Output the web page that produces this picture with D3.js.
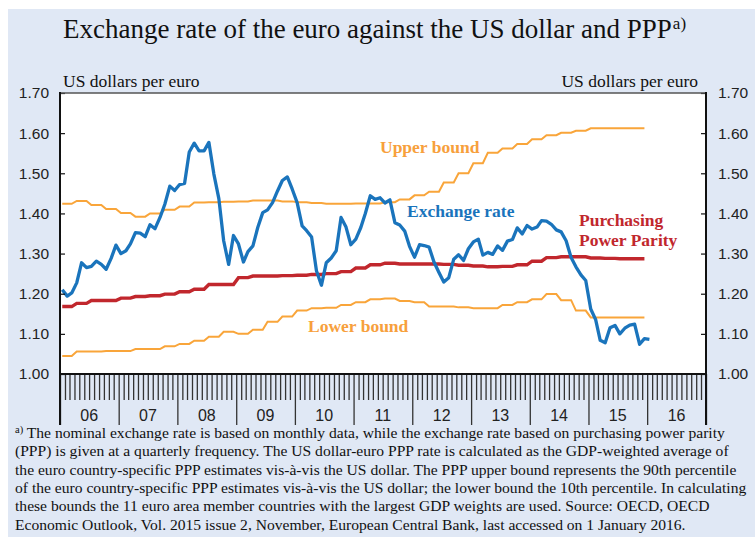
<!DOCTYPE html>
<html><head><meta charset="utf-8">
<script src="https://cdn.jsdelivr.net/npm/d3@7"></script>
<style>body{margin:0;background:#fff}svg{display:block}</style>
</head><body>
<svg id="c" width="755" height="537"></svg>
<script>
// ---------------- DATA ----------------
const yearLabels = ["06","07","08","09","10","11","12","13","14","15","16"];
const yTicks = [1.00,1.10,1.20,1.30,1.40,1.50,1.60,1.70];
const firstYear = 2006;
// monthly exchange rate, Jan 2006 .. Jan 2016
const exchangeRate = [
 1.210,1.194,1.202,1.227,1.277,1.265,1.268,1.281,1.273,1.261,1.288,1.321,
 1.300,1.307,1.324,1.352,1.351,1.342,1.372,1.362,1.390,1.423,1.468,1.457,
 1.472,1.475,1.553,1.575,1.556,1.556,1.577,1.498,1.437,1.332,1.273,1.345,
 1.324,1.279,1.305,1.319,1.365,1.402,1.409,1.427,1.456,1.482,1.491,1.461,
 1.427,1.369,1.357,1.341,1.257,1.221,1.277,1.289,1.307,1.390,1.366,1.322,
 1.336,1.365,1.400,1.444,1.435,1.439,1.426,1.434,1.377,1.371,1.356,1.318,
 1.291,1.322,1.320,1.316,1.279,1.253,1.229,1.240,1.286,1.297,1.283,1.312,
 1.329,1.336,1.296,1.303,1.298,1.319,1.308,1.331,1.335,1.364,1.349,1.370,
 1.361,1.366,1.382,1.381,1.373,1.359,1.354,1.332,1.290,1.267,1.247,1.233,
 1.162,1.135,1.084,1.078,1.115,1.121,1.100,1.114,1.122,1.124,1.074,1.088,
 1.086
];
// quarterly, Q1 2006 .. Q4 2015
const ppp = [
 1.168,1.176,1.183,1.183, 1.189,1.193,1.195,1.199, 1.205,1.211,1.223,1.223,
 1.240,1.244,1.244,1.245, 1.246,1.248,1.250,1.255, 1.264,1.272,1.276,1.274,
 1.274,1.274,1.273,1.271, 1.269,1.267,1.268,1.272, 1.281,1.290,1.292,1.292,
 1.289,1.288,1.287,1.287
];
const upperBound = [
 1.424,1.431,1.421,1.411, 1.401,1.392,1.400,1.409, 1.417,1.427,1.428,1.429,
 1.430,1.432,1.432,1.430, 1.428,1.426,1.424,1.424, 1.425,1.425,1.428,1.435,
 1.445,1.454,1.477,1.500, 1.525,1.551,1.562,1.573, 1.585,1.595,1.601,1.606,
 1.612,1.612,1.612,1.612
];
const lowerBound = [
 1.045,1.056,1.056,1.057, 1.057,1.062,1.062,1.069, 1.075,1.083,1.093,1.105,
 1.100,1.110,1.130,1.143, 1.158,1.164,1.165,1.172, 1.179,1.186,1.188,1.182,
 1.179,1.168,1.168,1.166, 1.164,1.164,1.172,1.179, 1.186,1.199,1.184,1.158,
 1.141,1.141,1.141,1.141
];
const footnote = [
 "The nominal exchange rate is based on monthly data, while the exchange rate based on purchasing power parity",
 "(PPP) is given at a quarterly frequency. The US dollar-euro PPP rate is calculated as the GDP-weighted average of",
 "the euro country-specific PPP estimates vis-à-vis the US dollar. The PPP upper bound represents the 90th percentile",
 "of the euro country-specific PPP estimates vis-à-vis the US dollar; the lower bound the 10th percentile. In calculating",
 "these bounds the 11 euro area member countries with the largest GDP weights are used. Source: OECD, OECD",
 "Economic Outlook, Vol. 2015 issue 2, November, European Central Bank, last accessed on 1 January 2016."
];

// ---------------- LAYOUT ----------------
const L = 60, R = 706, T = 93, B = 374;
const serif = "'Liberation Serif','Times New Roman',serif";
const sans = "'Liberation Sans',Arial,sans-serif";
const cBlue = "#1a74bc", cRed = "#c1272d", cOrange = "#f9a53a", cOrangeTxt = "#f7a03c";

const svg = d3.select("#c");
svg.append("rect").attr("x",8).attr("y",9).attr("width",747).attr("height",528).attr("fill","#e0e8f5");
svg.append("rect").attr("x",L).attr("y",T).attr("width",R-L).attr("height",B-T).attr("fill","#fff");

const x = d3.scaleUtc()
  .domain([new Date(Date.UTC(firstYear,0,1)), new Date(Date.UTC(firstYear+yearLabels.length,0,1))])
  .range([L,R]);
const y = d3.scaleLinear().domain([1.0,1.7]).range([B,T]);

const midMonth = i => new Date(Date.UTC(firstYear, i, 15));

// title
const title = svg.append("text").attr("x",63).attr("y",38)
  .attr("font-family",serif).attr("font-size",27).attr("fill","#111");
title.append("tspan").text("Exchange rate of the euro against the US dollar and PPP");
title.append("tspan").attr("font-size",17).attr("dy",-9).attr("dx",1).text("a)");

svg.append("text").attr("x",63).attr("y",87).attr("font-family",serif).attr("font-size",17.5)
  .attr("fill","#111").text("US dollars per euro");
svg.append("text").attr("x",698).attr("y",87).attr("text-anchor","end").attr("font-family",serif)
  .attr("font-size",17.5).attr("fill","#111").text("US dollars per euro");

// lines
const line = d3.line().x(d=>x(d.date)).y(d=>y(d.v));
const expandQ = arr => arr.flatMap((v,q)=>[0,1,2].map(m=>({date:midMonth(q*3+m), v})));

const g = svg.append("g");
g.append("path").datum(expandQ(upperBound)).attr("d",line).attr("fill","none")
  .attr("stroke",cOrange).attr("stroke-width",2);
g.append("path").datum(expandQ(lowerBound)).attr("d",line).attr("fill","none")
  .attr("stroke",cOrange).attr("stroke-width",2);
g.append("path").datum(expandQ(ppp)).attr("d",line).attr("fill","none")
  .attr("stroke",cRed).attr("stroke-width",3.4);
g.append("path").datum(exchangeRate.map((v,i)=>({date:midMonth(i), v}))).attr("d",line)
  .attr("fill","none").attr("stroke",cBlue).attr("stroke-width",3.3).attr("stroke-linejoin","round");

// series labels
const lab = (t,xx,yy,c)=>svg.append("text").attr("x",xx).attr("y",yy).attr("font-family",serif)
  .attr("font-weight","bold").attr("font-size",17.5).attr("fill",c).text(t);
lab("Upper bound",380,153,cOrangeTxt);
lab("Exchange rate",407,217,cBlue);
lab("Purchasing",579,226,cRed);
lab("Power Parity",579,246,cRed);
lab("Lower bound",308,332,cOrangeTxt);

// y axes (inward ticks)
const fmt = d3.format(".2f");
const yl = svg.append("g").attr("transform",`translate(${L},0)`)
  .call(d3.axisLeft(y).tickValues(yTicks).tickFormat(fmt).tickSize(-5).tickPadding(11));
const yr = svg.append("g").attr("transform",`translate(${R},0)`)
  .call(d3.axisRight(y).tickValues(yTicks).tickFormat(fmt).tickSize(-5).tickPadding(12));
[yl,yr].forEach(a=>{
  a.select(".domain").remove();
  a.selectAll(".tick line").attr("stroke","#111").attr("stroke-width",1.2);
  a.selectAll(".tick text").attr("font-family",sans).attr("font-size",15.5).attr("fill","#222");
});

// x axis: monthly ticks, yearly dividers, year labels
const months = d3.utcMonth.range(x.domain()[0], x.domain()[1]);
const xm = svg.append("g").attr("transform",`translate(0,${B})`)
  .call(d3.axisBottom(x).tickValues(months.filter(d=>d.getUTCMonth()!==0)).tickSize(26).tickFormat(""));
const xy = svg.append("g").attr("transform",`translate(0,${B})`)
  .call(d3.axisBottom(x).tickValues(d3.utcYear.range(x.domain()[0], new Date(+x.domain()[1]+1))).tickSize(51).tickFormat(""));
[xm,xy].forEach(a=>{ a.select(".domain").remove();
  a.selectAll(".tick line").attr("stroke","#333").attr("stroke-width",1.3); });
svg.append("g").selectAll("text").data(yearLabels).join("text")
  .attr("x",(d,i)=>x(new Date(Date.UTC(firstYear+i,6,2))))
  .attr("y",421).attr("text-anchor","middle").attr("font-family",sans).attr("font-size",16)
  .attr("fill","#222").text(d=>d);

// frame
svg.append("line").attr("x1",L).attr("x2",R).attr("y1",T).attr("y2",T).attr("stroke","#555").attr("stroke-width",1.5);
svg.append("line").attr("x1",L).attr("x2",R+1).attr("y1",B).attr("y2",B).attr("stroke","#111").attr("stroke-width",2.2);
svg.append("line").attr("x1",L).attr("x2",L).attr("y1",T-1).attr("y2",425).attr("stroke","#111").attr("stroke-width",2);
svg.append("line").attr("x1",R).attr("x2",R).attr("y1",T-1).attr("y2",425).attr("stroke","#111").attr("stroke-width",2);

// footnote
const fn = svg.append("g").attr("font-family",serif).attr("font-size",15.6).attr("fill","#111");
footnote.forEach((t,i)=>{
  const tx = fn.append("text").attr("x",15).attr("y",438+i*18.3);
  if(i===0){
    tx.append("tspan").attr("font-size",10.5).attr("dy",-5).text("a)");
    tx.append("tspan").attr("dy",5).text(" "+t);
  } else tx.text(t);
});
</script>
</body></html>
